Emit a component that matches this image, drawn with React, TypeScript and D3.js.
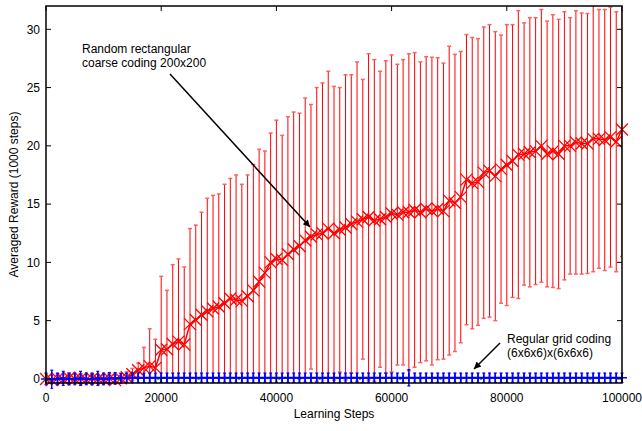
import React from "react";
import * as d3 from "d3";

const steps = d3.range(0, 100001, 1000);

const redMean = [
  0.0, -0.1, 0.05, -0.05, 0.1, 0.0, 0.05, -0.05, 0.05, 0.0,
  -0.05, 0.05, -0.1, 0.05, 0.15, 0.4, 0.75, 0.95, 1.1, 0.95,
  2.5, 2.55, 3.0, 3.2, 2.95, 4.7, 5.05, 5.5, 5.8, 6.05,
  6.2, 6.5, 6.9, 6.8, 6.7, 7.1, 7.6, 8.35, 9.1, 10.0,
  10.3, 10.2, 10.7, 11.1, 11.4, 11.9, 12.2, 12.4, 12.5, 12.9,
  12.5, 12.8, 13.0, 13.3, 13.5, 13.7, 13.9, 13.6, 13.7, 13.9,
  14.2, 14.1, 14.3, 14.3, 14.5, 14.3, 14.6, 14.4, 14.6, 14.4,
  15.3, 15.1, 15.6, 17.1, 16.8, 16.9, 17.7, 17.85, 17.4, 18.0,
  18.35, 18.7, 19.25, 19.3, 19.45, 19.55, 20.0, 19.3, 19.55, 19.3,
  20.0, 20.0, 20.3, 20.2, 20.2, 20.6, 20.6, 20.5, 20.75, 20.35,
  21.4,
];

const redUpper = [
  0.4, 0.3, 0.45, 0.35, 0.5, 0.4, 0.45, 0.35, 0.45, 0.4,
  0.35, 0.45, 0.3, 0.5, 0.6, 0.9, 1.35, 2.7, 4.3, 3.4,
  8.8, 7.6, 9.8, 10.3, 9.6, 12.9, 13.2, 14.3, 15.5, 15.75,
  15.87, 16.7, 17.2, 17.5, 16.7, 17.5, 18.4, 19.7, 19.55, 21.1,
  22.2, 20.9, 22.5, 22.9, 22.8, 24.1, 23.55, 25.0, 25.4, 26.4,
  25.1, 25.0, 26.1, 26.1, 27.2, 25.7, 27.9, 27.4, 26.4, 27.3,
  27.8, 27.0, 27.4, 27.9, 28.0, 27.2, 27.65, 27.6, 27.55, 27.1,
  28.55, 27.85, 28.1, 29.55, 29.3, 29.2, 30.2, 30.4, 29.8, 29.5,
  30.4, 30.4, 31.6, 30.55, 31.0, 31.0, 31.7, 30.7, 31.25, 30.85,
  31.5, 31.0, 31.6, 31.4, 31.35, 32.0, 31.7, 31.7, 31.9, 31.5,
  32.3,
];

const blueMean = [
  0.0, -0.05, 0.0, 0.05, 0.0, 0.0, 0.05, 0.0, 0.0, 0.05,
  0.0, 0.05, 0.05, 0.05, 0.1, 0.1, 0.1, 0.1, 0.1, 0.1,
  0.1, 0.1, 0.1, 0.1, 0.1, 0.1, 0.1, 0.1, 0.1, 0.1,
  0.1, 0.1, 0.1, 0.1, 0.1, 0.1, 0.1, 0.1, 0.1, 0.1,
  0.1, 0.1, 0.1, 0.1, 0.1, 0.1, 0.1, 0.1, 0.1, 0.1,
  0.1, 0.1, 0.1, 0.1, 0.1, 0.1, 0.1, 0.1, 0.1, 0.1,
  0.1, 0.1, 0.1, 0.1, 0.1, 0.1, 0.1, 0.1, 0.1, 0.1,
  0.1, 0.1, 0.1, 0.1, 0.1, 0.1, 0.1, 0.1, 0.1, 0.1,
  0.1, 0.1, 0.1, 0.1, 0.1, 0.1, 0.1, 0.1, 0.1, 0.1,
  0.1, 0.1, 0.1, 0.1, 0.1, 0.1, 0.1, 0.1, 0.1, 0.1,
  0.1,
];

const blueErr = [
  0.5, 0.8, 0.5, 0.6, 0.5, 0.5, 0.6, 0.5, 0.5, 0.6,
  0.5, 0.5, 0.5, 0.4, 0.4, 0.4, 0.4, 0.4, 0.4, 0.4,
  0.4, 0.4, 0.4, 0.4, 0.4, 0.4, 0.4, 0.4, 0.4, 0.4,
  0.4, 0.4, 0.4, 0.4, 0.4, 0.4, 0.4, 0.4, 0.4, 0.4,
  0.4, 0.4, 0.4, 0.4, 0.4, 0.4, 0.4, 0.4, 0.4, 0.4,
  0.4, 0.4, 0.4, 0.4, 0.4, 0.4, 0.4, 0.4, 0.4, 0.4,
  0.4, 0.4, 0.4, 0.7, 0.4, 0.4, 0.4, 0.4, 0.4, 0.4,
  0.4, 0.4, 0.4, 0.4, 0.4, 0.4, 0.4, 0.4, 0.4, 0.4,
  0.4, 0.4, 0.4, 0.4, 0.4, 0.4, 0.4, 0.4, 0.4, 0.4,
  0.4, 0.4, 0.4, 0.4, 0.4, 0.4, 0.4, 0.4, 0.4, 0.4,
  0.4,
];

const greenSteps = [
  2000, 5500, 9000, 12500, 16000, 19500, 23000, 26500, 30000, 33500,
  37000, 40500, 44000, 47500, 51000, 54500, 58000, 61500, 65000, 68500,
  72000, 75500, 79000, 83000, 87000, 91000, 94500, 98000,
];

const xTicks = [0, 20000, 40000, 60000, 80000, 100000];
const yTicks = [0, 5, 10, 15, 20, 25, 30];

const W = 642;
const H = 431;
const L = 46, R = 622, T = 6, B = 383;
const FONT = "'Liberation Sans', Arial, Helvetica, sans-serif";

export default function App() {
  const x = d3.scaleLinear().domain([0, 100000]).range([L, R]);
  const y = d3.scaleLinear().domain([-0.35, 32]).range([B, T]);

  const redLine = d3
    .line<number>()
    .x((_, i) => x(steps[i]))
    .y((d) => y(d))(redMean) as string;
  const blueLine = d3
    .line<number>()
    .x((_, i) => x(steps[i]))
    .y((d) => y(d))(blueMean) as string;

  const tick = 5;
  const cap = 2;
  const mk = 6;
  const pk = 5;

  return (
    <svg
      width={W}
      height={H}
      style={{ position: "absolute", left: 0, top: 0, background: "#fff" }}
      fontFamily={FONT}
    >
      <defs>
        <clipPath id="plot">
          <rect x={L} y={T} width={R - L} height={B - T} />
        </clipPath>
        <clipPath id="plotlow">
          <rect x={0} y={T} width={W} height={B - T + 6} />
        </clipPath>
        <marker
          id="arr"
          viewBox="0 0 10 10"
          refX="10"
          refY="5"
          markerWidth="10"
          markerHeight="7"
          markerUnits="userSpaceOnUse"
          orient="auto"
        >
          <path d="M0,0 L10,5 L0,10 z" fill="#000" />
        </marker>
      </defs>
      <rect x={0} y={0} width={W} height={H} fill="#fff" />

      {/* red error bars */}
      <g clipPath="url(#plot)">
        {steps.map((s, i) => {
          const up = redUpper[i];
          const lo = 2 * redMean[i] - up;
          const cx = x(s);
          return (
            <g key={"re" + i}>
              <line x1={cx} x2={cx} y1={y(up)} y2={y(lo)} stroke="#ff0000" strokeWidth={1} />
              <line x1={cx - cap} x2={cx + cap} y1={y(up)} y2={y(up)} stroke="#ff6060" strokeWidth={1.5} />
              <line x1={cx - cap} x2={cx + cap} y1={y(lo)} y2={y(lo)} stroke="#ff6060" strokeWidth={1.5} />
            </g>
          );
        })}
        <path d={redLine} fill="none" stroke="#ff0000" strokeWidth={1.5} />
      </g>

      {/* red markers */}
      <g>
        {steps.map((s, i) => {
          const cx = x(s);
          const cy = y(redMean[i]);
          return (
            <path
              key={"rm" + i}
              d={`M${cx - mk},${cy - mk}L${cx + mk},${cy + mk}M${cx - mk},${cy + mk}L${cx + mk},${cy - mk}`}
              stroke="#ff0000"
              strokeWidth={1.3}
              fill="none"
            />
          );
        })}
      </g>

      {/* green dots */}
      <g>
        {greenSteps.map((s, i) => (
          <rect key={"g" + i} x={x(s) - 1} y={y(0) - 1} width={2} height={2} fill="#00c000" />
        ))}
      </g>

      {/* blue series */}
      <g clipPath="url(#plotlow)">
        {steps.map((s, i) => {
          const cx = x(s);
          const up = blueMean[i] + blueErr[i];
          const lo = blueMean[i] - blueErr[i];
          return (
            <g key={"be" + i}>
              <line x1={cx} x2={cx} y1={y(up)} y2={y(lo)} stroke="#0000ff" strokeWidth={1.5} />
              <line x1={cx - 1.5} x2={cx + 1.5} y1={y(up)} y2={y(up)} stroke="#0000ff" strokeWidth={1.2} />
              <line x1={cx - 1.5} x2={cx + 1.5} y1={y(lo)} y2={y(lo)} stroke="#0000ff" strokeWidth={1.2} />
            </g>
          );
        })}
      </g>
      <path d={blueLine} fill="none" stroke="#0000ff" strokeWidth={2} />
      <g>
        {steps.map((s, i) => {
          const cx = x(s);
          const cy = y(blueMean[i]);
          return (
            <path
              key={"bm" + i}
              d={`M${cx - pk},${cy}L${cx + pk},${cy}M${cx},${cy - pk}L${cx},${cy + pk}`}
              stroke="#0000ff"
              strokeWidth={1.5}
              fill="none"
            />
          );
        })}
      </g>

      {/* frame and ticks */}
      <rect x={L} y={T} width={R - L} height={B - T} fill="none" stroke="#000" strokeWidth={1.5} />
      {xTicks.map((t) => (
        <g key={"xt" + t}>
          <line x1={x(t)} x2={x(t)} y1={B} y2={B - tick} stroke="#000" strokeWidth={1} />
          <line x1={x(t)} x2={x(t)} y1={T} y2={T + tick} stroke="#000" strokeWidth={1} />
          <text x={x(t)} y={402} fontSize={12} textAnchor="middle" fill="#000">
            {t}
          </text>
        </g>
      ))}
      {yTicks.map((t) => (
        <g key={"yt" + t}>
          <line x1={L} x2={L + tick} y1={y(t)} y2={y(t)} stroke="#000" strokeWidth={1} />
          <line x1={R} x2={R - tick} y1={y(t)} y2={y(t)} stroke="#000" strokeWidth={1} />
          <text x={40} y={y(t) + 4.3} fontSize={12} textAnchor="end" fill="#000">
            {t}
          </text>
        </g>
      ))}

      {/* axis labels */}
      <text x={(L + R) / 2} y={418} fontSize={12} textAnchor="middle" fill="#000">
        Learning Steps
      </text>
      <text
        transform={`translate(18,${(T + B) / 2}) rotate(-90)`}
        fontSize={12}
        textAnchor="middle"
        fill="#000"
      >
        Averaged Reward (1000 steps)
      </text>

      {/* annotations */}
      <text x={82} y={53} fontSize={12} fill="#000">
        Random rectangular
      </text>
      <text x={82} y={67} fontSize={12} fill="#000">
        coarse coding 200x200
      </text>
      <line x1={170} y1={74} x2={310} y2={227} stroke="#000" strokeWidth={1.5} markerEnd="url(#arr)" />

      <text x={507} y={343} fontSize={12} fill="#000">
        Regular grid coding
      </text>
      <text x={507} y={357} fontSize={12} fill="#000">
        (6x6x6)x(6x6x6)
      </text>
      <line x1={500} y1={343} x2={474} y2={369} stroke="#000" strokeWidth={1.5} markerEnd="url(#arr)" />
    </svg>
  );
}
